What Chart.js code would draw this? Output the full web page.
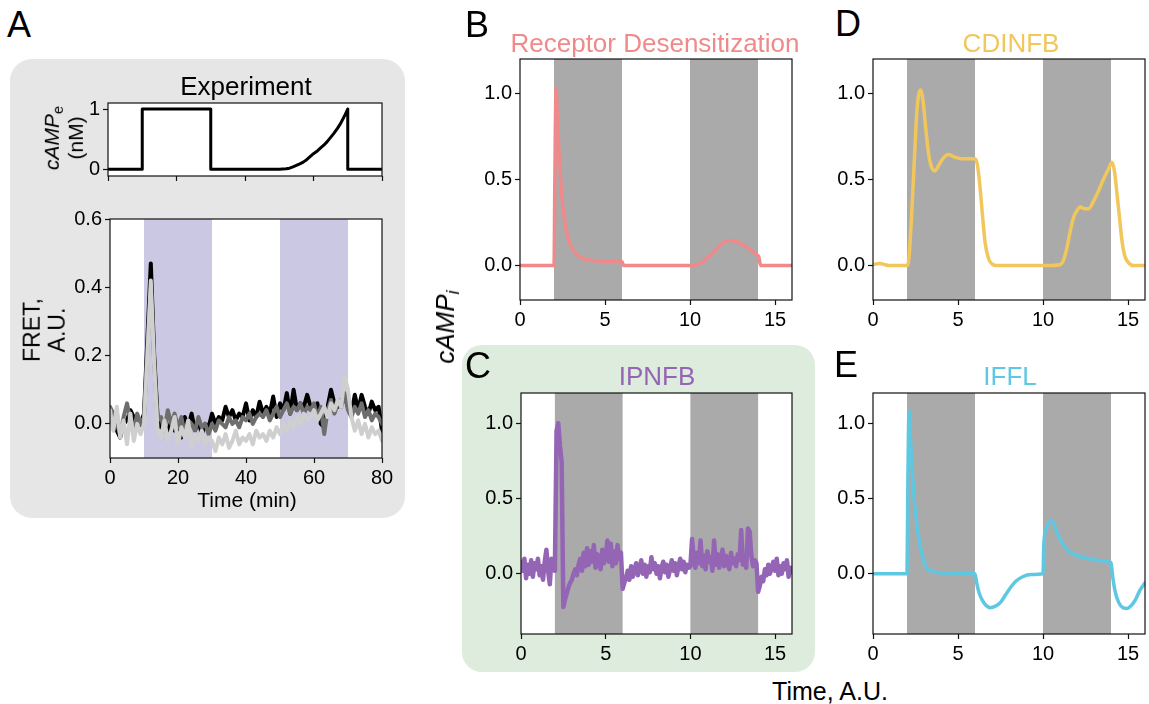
<!DOCTYPE html>
<html>
<head>
<meta charset="utf-8">
<script src="https://cdn.jsdelivr.net/npm/chart.js@4.4.1/dist/chart.umd.min.js"></script>
<style>
  html, body { margin: 0; padding: 0; background: #fff; }
  body { width: 1149px; height: 704px; position: relative; overflow: hidden;
         font-family: "Liberation Sans", Arial, sans-serif; }
  .box { position: absolute; }
  canvas { position: absolute; }
  .t { position: absolute; white-space: nowrap; line-height: 1; color: #000; }
  .sub { font-size: 0.7em; position: relative; top: 0.3em; }
</style>
</head>
<body>
<div class="box" style="left:10px;top:59px;width:395px;height:459px;background:#e6e6e6;border-radius:22px"></div>
<div class="box" style="left:462px;top:345px;width:353px;height:327px;background:#deecdd;border-radius:20px"></div>

<script>
// ---------- data ----------
// external cAMP stimulus (nM) over time (min)
const stimTime  = [0, 10, 10, 30, 30, 50, 51, 52, 53, 54, 55, 56, 57, 58, 59, 60,
                   61, 62, 63, 64, 65, 66, 67, 68, 69, 70, 70, 80];
const stimValue = [0, 0, 1, 1, 0, 0, 0.005, 0.01, 0.02, 0.04, 0.065, 0.09, 0.12, 0.16, 0.21, 0.26,
                   0.3, 0.35, 0.4, 0.46, 0.53, 0.6, 0.68, 0.77, 0.88, 1, 0, 0];

// FRET recordings, one sample per minute from 0 to 80 min
const fretStep = 1;
const fretBlack = [0.02, 0.01, -0.02, -0.04, 0.00, 0.01, 0.04, 0.02, -0.01, 0.00,
  0.03, 0.25, 0.47, 0.20, 0.02,
  -0.01, 0.00, -0.03, 0.01, -0.02, 0.00, -0.04, 0.02, -0.01, 0.03, -0.02, 0.01, -0.03, 0.00, -0.01,
  0.03, 0.00, 0.02, 0.01, 0.05, 0.02, 0.04, 0.01, 0.03, 0.02, 0.06, 0.01, 0.04, 0.02, 0.065,
  0.03, 0.05, 0.03, 0.08, 0.02, 0.06, 0.04, 0.09, 0.03, 0.10, 0.04, 0.06, 0.05, 0.085, 0.05,
  0.04, 0.06, 0.00, -0.01, 0.05, 0.10, 0.06, 0.05, 0.07, 0.08,
  0.05, 0.03, 0.085, 0.04, 0.085, 0.05, 0.03, 0.065, 0.04, 0.05, -0.02];
const fretDark = [0.05, 0.03, 0.00, -0.03, 0.02, 0.06, 0.01, -0.02, 0.03, 0.00,
  0.02, 0.22, 0.40, 0.18, 0.01,
  0.02, -0.02, 0.04, 0.00, 0.03, -0.01, 0.02, -0.03, 0.01, 0.00, -0.02, 0.02, -0.01, 0.00, -0.03,
  0.00, -0.02, 0.01, 0.00, -0.01, 0.02, 0.00, 0.01, -0.01, 0.02, 0.01, 0.03, 0.00, 0.02, 0.03,
  0.02, 0.04, 0.01, 0.03, 0.05, 0.02, 0.04, 0.06, 0.03, 0.05, 0.04, 0.06, 0.03, 0.05, 0.04,
  0.06, 0.02, 0.05, -0.03, 0.04, 0.07, 0.03, 0.06, 0.05, 0.09,
  0.04, 0.02, 0.05, 0.03, 0.06, 0.02, 0.04, 0.01, 0.03, 0.02, 0.00];
const fretLight = [0.04, -0.02, 0.05, -0.04, 0.01, -0.06, 0.03, -0.05, 0.00, -0.03,
  0.00, 0.20, 0.42, 0.17, -0.02,
  -0.04, 0.01, -0.05, -0.02, 0.02, -0.06, -0.01, -0.04, 0.01, -0.07, -0.03, -0.05, -0.02, -0.06, -0.04,
  -0.05, -0.08, -0.04, -0.06, -0.03, -0.07, -0.05, -0.02, -0.06, -0.04, -0.05, -0.03, -0.06, -0.02, -0.04,
  -0.03, -0.05, -0.02, -0.04, -0.01, -0.03, 0.00, -0.02, 0.01, -0.01, 0.02, 0.00, 0.03, 0.01, 0.02,
  0.04, 0.01, 0.03, 0.05, 0.02, 0.06, 0.04, 0.07, 0.05, 0.14,
  0.10, 0.02, -0.02, 0.01, -0.03, 0.00, -0.04, -0.01, -0.03, -0.02, -0.05];

// Receptor desensitization model
const bTime  = [0, 2.0, 2.05, 2.12, 2.2, 2.3, 2.4, 2.5, 2.65, 2.8, 3.0, 3.3, 3.7, 4.3, 5.0, 6.0, 6.1,
                10.0, 10.4, 10.8, 11.2, 11.6, 12.0, 12.3, 12.7, 13.1, 13.5, 13.9, 14.05, 14.15, 16];
const bValue = [0, 0, 0.5, 1.03, 0.85, 0.65, 0.48, 0.36, 0.25, 0.17, 0.11, 0.07, 0.04, 0.03, 0.025, 0.022, 0,
                0, 0.005, 0.025, 0.06, 0.1, 0.135, 0.145, 0.14, 0.12, 0.095, 0.065, 0.05, 0, 0];

// CDINFB model
const dTime  = [0, 0.2, 0.4, 0.7, 1.0, 2.0, 2.1, 2.25, 2.45, 2.6, 2.8, 2.95, 3.1, 3.3, 3.5, 3.65, 3.85, 4.1,
                4.45, 4.8, 5.2, 5.6, 6.0, 6.15, 6.3, 6.45, 6.6, 6.8, 7.0, 7.3, 8, 10, 11.0, 11.2, 11.4, 11.6,
                11.8, 12.0, 12.2, 12.45, 12.7, 12.95, 13.25, 13.55, 13.85, 14.05, 14.2, 14.35, 14.5, 14.65,
                14.8, 15.0, 15.3, 16];
const dValue = [0.005, 0.01, 0.012, 0.005, 0, 0, 0.03, 0.25, 0.65, 0.92, 1.02, 0.95, 0.8, 0.63, 0.56, 0.55, 0.58, 0.62,
                0.645, 0.63, 0.62, 0.62, 0.62, 0.58, 0.45, 0.28, 0.13, 0.04, 0.01, 0, 0, 0, 0.005, 0.03, 0.1, 0.2,
                0.28, 0.32, 0.34, 0.33, 0.33, 0.37, 0.43, 0.5, 0.56, 0.6, 0.55, 0.42, 0.28, 0.14,
                0.06, 0.02, 0, 0];

// IPNFB model, sampled every 0.1 time units from 0 to 16
const cStep = 0.1;
const cValue = [
  0.08, 0.02, 0.10, -0.03, 0.06, 0.00, 0.09, -0.02, 0.07, 0.03,
  0.10, -0.01, 0.05, -0.04, 0.08, 0.16, 0.02, -0.07, 0.10, 0.03,
  0.02, 0.95, 1.00, 0.85, 0.74, -0.22, -0.17, -0.13, -0.09, -0.06,
  -0.04, 0.00, 0.03, -0.01, 0.06, 0.10, 0.02, 0.14, 0.05, 0.17,
  0.06, 0.15, 0.08, 0.19, 0.04, 0.13, 0.09, 0.03, 0.16, 0.07,
  0.11, 0.22, 0.08, 0.20, 0.05, 0.15, 0.07, 0.19, 0.10, 0.14,
  -0.10, -0.06, -0.03, 0.02, -0.04, 0.05, -0.02, 0.03, 0.07, -0.01,
  0.04, 0.09, 0.00, 0.06, -0.02, 0.05, 0.01, 0.11, 0.03, 0.07,
  0.00, 0.05, -0.03, 0.04, 0.08, 0.01, 0.06, -0.02, 0.03, 0.09,
  0.02, 0.07, -0.01, 0.05, 0.10, 0.03, 0.08, 0.01, 0.06, 0.04,
  0.05, 0.23, 0.10, 0.04, 0.14, 0.07, 0.22, 0.05, 0.12, 0.03,
  0.15, 0.08, 0.11, 0.02, 0.22, 0.06, 0.13, 0.04, 0.10, 0.16,
  0.05, 0.12, 0.08, 0.03, 0.14, 0.07, 0.10, 0.05, 0.13, 0.09,
  0.29, 0.06, 0.10, 0.04, 0.30, 0.28, 0.12, 0.05, 0.09, 0.07,
  -0.12, -0.08, -0.02, -0.05, 0.03, -0.01, 0.06, 0.00, 0.04, 0.08,
  0.02, 0.10, -0.01, 0.05, 0.00, 0.07, 0.03, 0.09, -0.02, 0.04,
  0.01];

// IFFL model
const eTime  = [0, 2.0, 2.05, 2.12, 2.2, 2.3, 2.42, 2.55, 2.72, 2.9, 3.1, 3.4, 4.0, 6.0, 6.1, 6.25, 6.45, 6.65,
                6.9, 7.2, 7.5, 7.8, 8.1, 8.4, 8.8, 9.3, 10.0, 10.05, 10.2, 10.45, 10.6, 10.8, 11.1, 11.4, 11.8,
                12.3, 12.9, 13.5, 14.0, 14.1, 14.25, 14.45, 14.7, 14.95, 15.2, 15.45, 15.7, 16];
const eValue = [0, 0, 0.6, 1.08, 0.9, 0.7, 0.5, 0.35, 0.22, 0.12, 0.05, 0.02, 0.005, 0, -0.06, -0.13, -0.18, -0.21,
                -0.225, -0.215, -0.19, -0.14, -0.09, -0.05, -0.02, -0.005, 0, 0.2, 0.3, 0.355, 0.34, 0.28, 0.21, 0.16, 0.13,
                0.11, 0.095, 0.085, 0.075, -0.02, -0.12, -0.19, -0.225, -0.23, -0.21, -0.17, -0.11, -0.06];

// stimulation windows
const expBands = [[10, 30], [50, 70]];
const simBands = [[2, 6], [10, 14]];

// tick values
const expXTicks = [0, 20, 40, 60, 80];
const stimYTicks = [0, 1];
const fretYTicks = [0, 0.2, 0.4, 0.6];
const simXTicks = [0, 5, 10, 15];
const simYTicks = [0, 0.5, 1.0];

// ---------- drawing helpers ----------
const FONT = '"Liberation Sans", Arial, sans-serif';
const PAD_T = 14, PAD_R = 24, Y_W = 64, X_H = 40;

const panelPlugin = {
  id: 'panelDecor',
  beforeDatasetsDraw(chart, args, opts) {
    const { ctx, chartArea: a, scales: { x } } = chart;
    ctx.save();
    ctx.fillStyle = '#ffffff';
    ctx.fillRect(a.left, a.top, a.width, a.height);
    ctx.fillStyle = opts.bandColor;
    (opts.bands || []).forEach(([s, e]) => {
      const x0 = x.getPixelForValue(s), x1 = x.getPixelForValue(e);
      ctx.fillRect(x0, a.top, x1 - x0, a.height);
    });
    ctx.restore();
  },
  afterDatasetsDraw(chart) {
    const { ctx, chartArea: a } = chart;
    ctx.save();
    ctx.strokeStyle = '#111';
    ctx.lineWidth = 1.2;
    ctx.strokeRect(a.left, a.top, a.width, a.height);
    ctx.restore();
  }
};

function pts(xs, ys) { return ys.map((y, i) => ({ x: xs[i], y })); }
function stepPts(step, ys) { return ys.map((y, i) => ({ x: i * step, y })); }

function panel(rect, cfg) {
  const c = document.createElement('canvas');
  const w = rect.r - rect.l + Y_W + PAD_R;
  const h = rect.b - rect.t + PAD_T + X_H;
  c.width = w; c.height = h;
  c.style.left = (rect.l - Y_W) + 'px';
  c.style.top = (rect.t - PAD_T) + 'px';
  c.style.width = w + 'px'; c.style.height = h + 'px';
  document.body.appendChild(c);
  const tickFont = { family: FONT, size: 20 };
  const grid = { display: true, drawOnChartArea: false, drawTicks: true, tickLength: 5,
                 tickColor: '#111', tickWidth: 1.2, color: '#111' };
  new Chart(c, {
    type: 'line',
    data: { datasets: cfg.datasets },
    options: {
      responsive: false, animation: false, devicePixelRatio: 1,
      layout: { padding: { top: PAD_T, right: PAD_R, left: 0, bottom: 0 } },
      elements: { point: { radius: 0 } },
      plugins: {
        legend: { display: false }, tooltip: { enabled: false },
        panelDecor: { bands: cfg.bands, bandColor: cfg.bandColor }
      },
      scales: {
        x: {
          type: 'linear', min: cfg.xMin, max: cfg.xMax,
          afterFit(s) { s.height = X_H; },
          afterBuildTicks(s) { s.ticks = cfg.xTicks.map(v => ({ value: v })); },
          ticks: { autoSkip: false, maxRotation: 0, font: tickFont, color: '#000', padding: 3,
                   callback: cfg.xFmt },
          grid, border: { display: false }
        },
        y: {
          type: 'linear', min: cfg.yMin, max: cfg.yMax,
          afterFit(s) { s.width = Y_W; },
          afterBuildTicks(s) { s.ticks = cfg.yTicks.map(v => ({ value: v })); },
          ticks: { autoSkip: false, font: tickFont, color: '#000', padding: 3,
                   callback: cfg.yFmt },
          grid, border: { display: false }
        }
      }
    },
    plugins: [panelPlugin]
  });
}

function line(data, color, width, smooth) {
  return { data, borderColor: color, borderWidth: width, fill: false, pointRadius: 0,
           tension: 0, cubicInterpolationMode: smooth ? 'monotone' : 'default',
           borderJoinStyle: 'round', borderCapStyle: 'round' };
}

function text(html, x, baseline, size, o = {}) {
  const d = document.createElement('div');
  d.className = 't';
  d.innerHTML = html;
  d.style.fontSize = size + 'px';
  d.style.top = (baseline - 0.8465 * size) + 'px';
  d.style.left = x + 'px';
  if (o.center) d.style.transform = 'translateX(-50%)';
  if (o.color) d.style.color = o.color;
  document.body.appendChild(d);
}

function vtext(html, cx, cy, size, o = {}) {
  const d = document.createElement('div');
  d.className = 't';
  d.innerHTML = html;
  d.style.fontSize = size + 'px';
  d.style.left = cx + 'px';
  d.style.top = cy + 'px';
  d.style.textAlign = 'center';
  d.style.lineHeight = (o.lh || 1) + '';
  d.style.transform = 'translate(-50%,-50%) rotate(-90deg)';
  document.body.appendChild(d);
}

const fmt1 = v => v.toFixed(1);
const fmt0 = v => String(v);
const none = () => '';

// ---------- panel colours ----------
const PINK = '#f08a8a', GOLD = '#f1c75b', PURPLE = '#9565b5', CYAN = '#5ec8e2';
const SHADE = '#aaaaaa', LILAC = '#cac8e3';

// A: stimulus
panel({ l: 108, t: 102, r: 382, b: 176 }, {
  xMin: 0, xMax: 80, yMin: -0.11, yMax: 1.1, xTicks: expXTicks, yTicks: stimYTicks,
  xFmt: none, yFmt: fmt0, bands: [], bandColor: LILAC,
  datasets: [line(pts(stimTime, stimValue), '#000', 3, false)]
});

// A: FRET recordings
panel({ l: 110, t: 218, r: 382, b: 458 }, {
  xMin: 0, xMax: 80, yMin: -0.1, yMax: 0.6, xTicks: expXTicks, yTicks: fretYTicks,
  xFmt: fmt0, yFmt: fmt1, bands: expBands, bandColor: LILAC,
  datasets: [
    line(stepPts(fretStep, fretLight), '#cfcfcf', 4, false),
    line(stepPts(fretStep, fretDark), '#6e6e6e', 4, false),
    line(stepPts(fretStep, fretBlack), '#000000', 4, false)
  ]
});

// B
panel({ l: 520, t: 58, r: 792, b: 300 }, {
  xMin: 0, xMax: 16, yMin: -0.2, yMax: 1.2, xTicks: simXTicks, yTicks: simYTicks,
  xFmt: fmt0, yFmt: fmt1, bands: simBands, bandColor: SHADE,
  datasets: [line(pts(bTime, bValue), PINK, 3.5, true)]
});

// D
panel({ l: 873, t: 58, r: 1145, b: 300 }, {
  xMin: 0, xMax: 16, yMin: -0.2, yMax: 1.2, xTicks: simXTicks, yTicks: simYTicks,
  xFmt: fmt0, yFmt: fmt1, bands: simBands, bandColor: SHADE,
  datasets: [line(pts(dTime, dValue), GOLD, 3.5, true)]
});

// C
panel({ l: 521, t: 392, r: 792, b: 634 }, {
  xMin: 0, xMax: 16, yMin: -0.4, yMax: 1.2, xTicks: simXTicks, yTicks: simYTicks,
  xFmt: fmt0, yFmt: fmt1, bands: simBands, bandColor: SHADE,
  datasets: [line(stepPts(cStep, cValue), PURPLE, 4.5, false)]
});

// E
panel({ l: 873, t: 392, r: 1145, b: 634 }, {
  xMin: 0, xMax: 16, yMin: -0.4, yMax: 1.2, xTicks: simXTicks, yTicks: simYTicks,
  xFmt: fmt0, yFmt: fmt1, bands: simBands, bandColor: SHADE,
  datasets: [line(pts(eTime, eValue), CYAN, 3.5, true)]
});

// ---------- labels ----------
text('A', 7, 37, 36);
text('B', 465, 37, 36);
text('C', 465, 378, 36);
text('D', 835, 36, 36);
text('E', 834, 377, 36);

text('Experiment', 246, 95, 26, { center: true });
text('Receptor Desensitization', 655, 52, 26, { center: true, color: PINK });
text('CDINFB', 1011, 52, 26, { center: true, color: GOLD });
text('IPNFB', 657, 385, 26, { center: true, color: PURPLE });
text('IFFL', 1010, 385, 26, { center: true, color: CYAN });

vtext('<i>cAMP</i><span class="sub">e</span><br>(nM)', 64, 138, 21, { lh: 1.15 });
vtext('FRET,<br>A.U.', 45, 330, 23, { lh: 1.1 });
text('Time (min)', 247, 507, 21, { center: true });

vtext('<i>cAMP</i><span class="sub"><i>i</i></span>', 445, 327, 26);
text('Time, A.U.', 830, 700, 25, { center: true });
</script>
</body>
</html>
